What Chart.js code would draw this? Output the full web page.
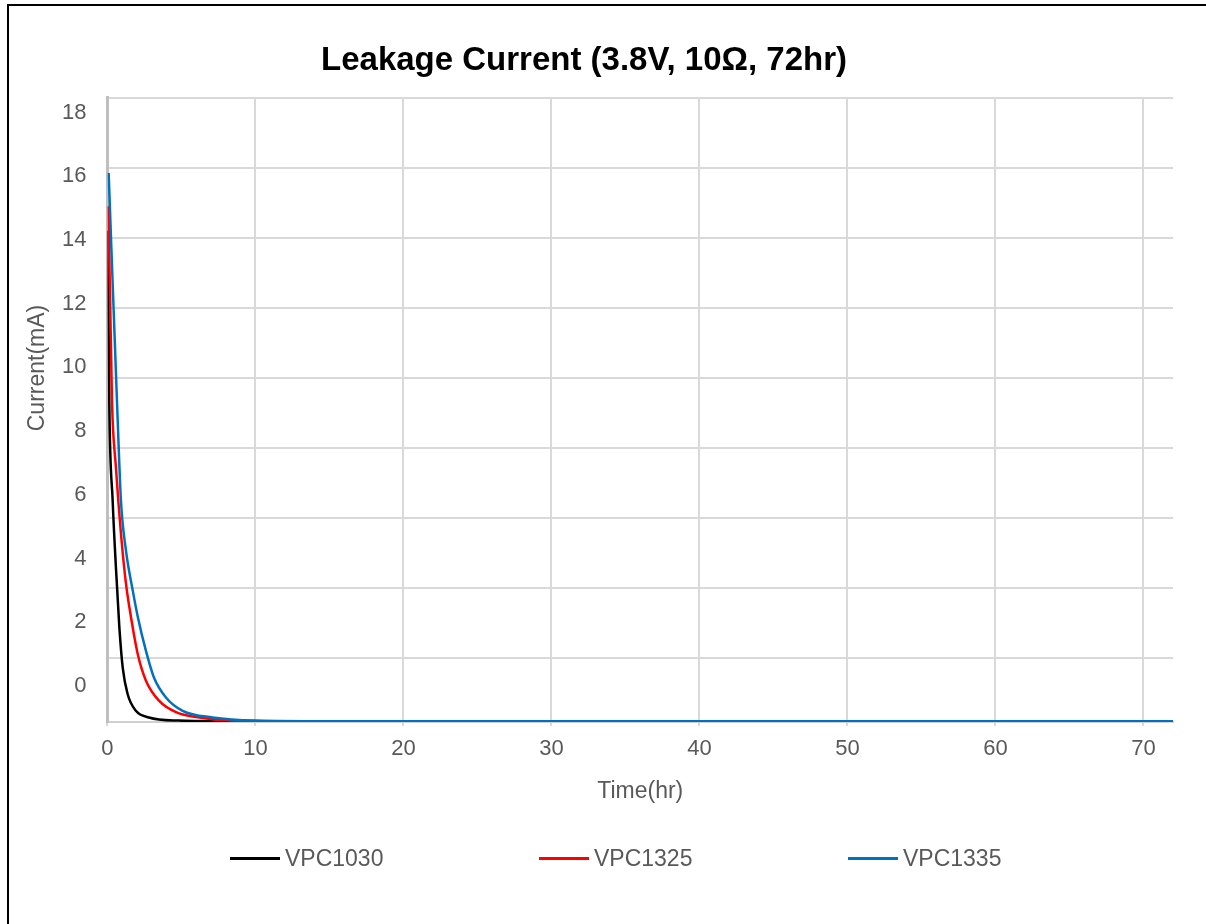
<!DOCTYPE html>
<html lang="en">
<head>
<meta charset="UTF-8">
<title>Leakage Current (3.8V, 10Ω, 72hr)</title>
<script src="https://cdn.jsdelivr.net/npm/chart.js@4"></script>
<style>
    body {
        margin: 0;
        background: #fff;
        font-family: "Liberation Sans", Arial, sans-serif;
        overflow: hidden;
    }
    .wrap {
        position: relative;
        width: 1206px;
        height: 924px;
    }
    .frame {
        position: absolute;
        left: 7px;
        top: 4px;
        right: -10px;
        bottom: -10px;
        border-left: 2px solid #000;
        border-top: 2px solid #000;
        pointer-events: none;
    }
    #legend {
        position: absolute;
        left: 230px;
        top: 845px;
        display: flex;
    }
    .item {
        width: 309px;
        display: flex;
        align-items: center;
        font-size: 23px;
        line-height: 26px;
        color: #595959;
    }
    .swatch {
        width: 50px;
        height: 3px;
        margin-right: 5px;
    }
</style>
</head>
<body>
<div class="wrap">
    <canvas id="leak" width="1206" height="924"></canvas>
    <div class="frame"></div>
    <div id="legend"></div>
</div>
<script>
// values (time in hr, current in mA)
const seriesNames = ['VPC1030', 'VPC1325', 'VPC1335'];
const seriesColors = ['#000000', '#ff0000', '#0070c0'];

const blackT = [0.03, 0.12, 0.35, 0.57, 0.80, 1.03, 1.36, 1.92, 2.8, 4.8, 8, 15, 25, 35, 45, 55, 65, 72];
const blackI = [14.2, 9.4, 6.5, 4.6, 2.9, 1.73, 0.98, 0.5, 0.31, 0.22, 0.2, 0.19, 0.19, 0.19, 0.19, 0.19, 0.19, 0.19];

const redT = [0.07, 0.3, 0.57, 0.91, 1.25, 1.59, 2.04, 2.6, 3.48, 4.63, 5.98, 8.2, 12, 20, 30, 40, 50, 60, 72];
const redI = [14.9, 9.4, 7.45, 5.56, 4.13, 3.17, 2.13, 1.36, 0.79, 0.46, 0.32, 0.22, 0.2, 0.2, 0.2, 0.2, 0.2, 0.2, 0.2];

const blueT = [0.08, 0.69, 0.91, 1.25, 1.7, 2.04, 2.6, 3.14, 3.95, 5.08, 7.1, 10, 15, 20, 30, 40, 50, 60, 72];
const blueI = [15.85, 8.79, 6.5, 5.07, 3.95, 3.2, 2.21, 1.45, 0.88, 0.5, 0.31, 0.22, 0.2, 0.2, 0.2, 0.2, 0.2, 0.2, 0.2];

const xTicks = [0, 10, 20, 30, 40, 50, 60, 70];
const yGrid = [2, 4, 6, 8, 10, 12, 14, 16, 18];
const yTickLabels = [0, 2, 4, 6, 8, 10, 12, 14, 16, 18];

const times = [blackT, redT, blueT];
const currents = [blackI, redI, blueI];

Chart.defaults.font.family = "'Liberation Sans', Arial, sans-serif";
Chart.defaults.color = '#595959';

function toPoints(t, v) {
    return t.map((x, i) => ({ x: x, y: v[i] }));
}

const datasets = seriesNames.map((name, i) => ({
    label: name,
    data: toPoints(times[i], currents[i]),
    borderColor: seriesColors[i],
    backgroundColor: seriesColors[i],
    borderWidth: 2.5,
    pointRadius: 0,
    cubicInterpolationMode: 'monotone',
    order: 3 - i
}));

// nudge the title a little left, like the original
const titleShift = {
    id: 'titleShift',
    afterLayout(chart) {
        const t = chart.titleBlock;
        if (t) { t.left -= 23; t.right -= 23; }
    }
};

// y axis title sits higher than the axis middle
const yTitle = {
    id: 'yTitle',
    afterDraw(chart) {
        const c = chart.ctx;
        c.save();
        c.translate(38, 368);
        c.rotate(-Math.PI / 2);
        c.font = "23px 'Liberation Sans', Arial, sans-serif";
        c.fillStyle = '#595959';
        c.textAlign = 'center';
        c.textBaseline = 'middle';
        c.fillText('Current(mA)', 0, 0);
        c.restore();
    }
};

const chart = new Chart(document.getElementById('leak'), {
    type: 'line',
    data: { datasets: datasets },
    plugins: [titleShift, yTitle],
    options: {
        responsive: false,
        animation: false,
        layout: { padding: { top: 0, right: 33, bottom: 115, left: 41 } },
        plugins: {
            legend: { display: false },
            tooltip: { enabled: false },
            title: {
                display: true,
                text: 'Leakage Current (3.8V, 10Ω, 72hr)',
                color: '#000',
                font: { size: 33, weight: 'bold' },
                padding: { top: 41, bottom: 17 }
            }
        },
        scales: {
            x: {
                type: 'linear',
                min: 0,
                max: 72,
                afterBuildTicks: s => { s.ticks = xTicks.map(v => ({ value: v })); },
                grid: { color: '#d9d9d9', lineWidth: 2, tickLength: 4, tickColor: '#d9d9d9' },
                border: { color: '#d0d0d0', width: 2 },
                ticks: { font: { size: 22 }, padding: 10, maxRotation: 0 },
                title: { display: true, text: 'Time(hr)', font: { size: 23 }, padding: { top: 5, bottom: 4 } }
            },
            y: {
                position: 'left',
                weight: 0,
                min: 0.18,
                max: 18,
                afterBuildTicks: s => { s.ticks = yGrid.map(v => ({ value: v })); },
                grid: { color: '#d9d9d9', lineWidth: 2, drawTicks: false },
                border: { color: '#bfbfbf', width: 3 },
                ticks: { display: false }
            },
            yl: {
                position: 'left',
                weight: 1,
                min: -1.133,
                max: 18.472,
                afterBuildTicks: s => { s.ticks = yTickLabels.map(v => ({ value: v })); },
                grid: { display: false, drawTicks: false },
                border: { display: false },
                ticks: { font: { size: 22 }, padding: 21 }
            }
        }
    }
});

// legend below the chart, spread out like the original
const legend = document.getElementById('legend');
chart.data.datasets.forEach(ds => {
    const item = document.createElement('div');
    item.className = 'item';
    const sw = document.createElement('span');
    sw.className = 'swatch';
    sw.style.background = ds.borderColor;
    const txt = document.createElement('span');
    txt.textContent = ds.label;
    item.appendChild(sw);
    item.appendChild(txt);
    legend.appendChild(item);
});
</script>
</body>
</html>
